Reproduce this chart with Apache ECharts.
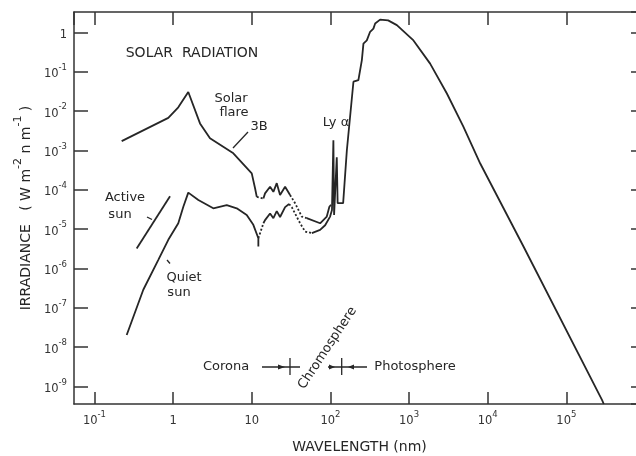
<!DOCTYPE html>
<html>
<head>
<meta charset="utf-8">
<script src="https://cdn.jsdelivr.net/npm/echarts@6/dist/echarts.min.js"></script>
<style>html,body{margin:0;padding:0;background:#fff;overflow:hidden;width:636px;height:456px}#c{width:680px;height:456px}</style>
</head>
<body>
<div id="c"></div>
<script>
// All points are [log10(wavelength / nm), log10(irradiance / W m^-2 nm^-1)]
const flareSolid1 = [[-0.654,-2.76],[-0.061,-2.17],[0.066,-1.90],[0.193,-1.51],[0.342,-2.31],[0.469,-2.69],[0.766,-3.07],[1.000,-3.58],[1.042,-3.96],[1.064,-4.18]];
const flareDot1   = [[1.064,-4.18],[1.148,-4.22]];
const flareSolid2 = [[1.148,-4.22],[1.169,-4.09],[1.233,-3.92],[1.275,-4.05],[1.318,-3.83],[1.360,-4.13],[1.424,-3.92],[1.487,-4.13]];
const flareDot2   = [[1.487,-4.13],[1.551,-4.34],[1.636,-4.68],[1.699,-4.72]];
const flareSolid3 = [[1.699,-4.72],[1.869,-4.85],[1.954,-4.68],[1.987,-4.43],[2.008,-4.38]];

const quietSolid1 = [[-0.590,-7.69],[-0.379,-6.54],[-0.188,-5.78],[-0.061,-5.27],[0.066,-4.85],[0.130,-4.43],[0.193,-4.07],[0.321,-4.26],[0.511,-4.47],[0.682,-4.39],[0.809,-4.47],[0.936,-4.64],[1.020,-4.89],[1.084,-5.23],[1.084,-5.44],[1.084,-5.23]];
const quietDot1   = [[1.084,-5.23],[1.148,-4.85]];
const quietSolid2 = [[1.148,-4.85],[1.169,-4.77],[1.233,-4.60],[1.275,-4.72],[1.318,-4.54],[1.360,-4.69],[1.424,-4.44],[1.475,-4.36]];
const quietDot2   = [[1.475,-4.36],[1.509,-4.44],[1.615,-4.85],[1.679,-5.06],[1.764,-5.10]];
const quietSolid3 = [[1.764,-5.10],[1.869,-5.02],[1.933,-4.90],[1.996,-4.68],[2.020,-4.51],[2.038,-2.74],[2.047,-4.64],[2.081,-3.17],[2.092,-4.34],[2.162,-4.34],[2.209,-3.00],[2.293,-1.25],[2.356,-1.21],[2.400,-0.70],[2.420,-0.28],[2.463,-0.20],[2.505,0.02],[2.547,0.10],[2.569,0.23],[2.632,0.33],[2.734,0.31],[2.845,0.19],[3.056,-0.20],[3.268,-0.79],[3.481,-1.55],[3.692,-2.40],[3.905,-3.33],[4.455,-5.44],[5.453,-9.34],[5.476,-9.446]];

const activeSun = [[-0.463,-5.49],[-0.039,-4.16]];

const xRangeLog = [-1.26, 6];      // wavelength axis extent (log10 nm)
const yRangeLog = [-9.446, 0.523]; // irradiance axis extent (log10)

function powLabel(v){
  const l = Math.log10(v), e = Math.round(l);
  if (Math.abs(l - e) > 0.01) return '';
  if (e === 0) return '{b|1}';
  if (e === 1) return '{b|10}';
  return '{b|10}{s|' + e + '}';
}
const toLin = arr => arr.map(p => [Math.pow(10, p[0]), Math.pow(10, p[1])]);

const INK = '#262626';
const FONT = 'DejaVu Sans';
function seg(data, dotted){
  return { type:'line', data: toLin(data), showSymbol:false, silent:true,
    lineStyle:{ color: INK, width: 1.8, type: dotted ? [2,2] : 'solid' } };
}
const tickRich = {
  b:{ fontFamily:FONT, fontSize:11.5, color:'#333', verticalAlign:'bottom', lineHeight:17 },
  s:{ fontFamily:FONT, fontSize:8.5, color:'#333', verticalAlign:'top', lineHeight:17 }
};

const axisLine = { show:true, lineStyle:{ color:'#333', width:1.5 } };
const chart = echarts.init(document.getElementById('c'), null, {renderer:'canvas'});
const xMin = Math.pow(10, xRangeLog[0]), xMax = Math.pow(10, xRangeLog[1]);
const yMin = Math.pow(10, yRangeLog[0]), yMax = Math.pow(10, yRangeLog[1]);

const txt = (s, x, y, size) => ({ type:'text', x, y, silent:true,
  style:{ text:s, fill:INK, font:(size||13)+'px "DejaVu Sans"', textAlign:'center', textVerticalAlign:'middle' } });
const ln = (x1,y1,x2,y2,w) => ({ type:'line', silent:true, shape:{x1,y1,x2,y2}, style:{ stroke:INK, lineWidth:w||1.3 } });
const tri = (pts) => ({ type:'polygon', silent:true, shape:{points:pts}, style:{ fill:INK } });

chart.setOption({
  animation:false,
  backgroundColor:'#fff',
  grid:{ left:74, top:12, width:571, height:392, containLabel:false, outerBoundsMode:'none' },
  xAxis:[
    { type:'log', logBase:10, position:'bottom', min:xMin, max:xMax,
      axisLine, splitLine:{show:false},
      axisTick:{ inside:true, length:12, lineStyle:{color:'#333', width:1.5} },
      minorTick:{show:false},
      axisLabel:{ formatter: powLabel, margin:6, rich: tickRich, showMinLabel:false },
      name:'WAVELENGTH (nm)', nameLocation:'middle', nameGap:36,
      nameTextStyle:{ color:INK, fontFamily:FONT, fontSize:14 } },
    { type:'log', logBase:10, position:'top', min:xMin, max:xMax,
      axisLine, splitLine:{show:false},
      axisTick:{ inside:true, length:13, lineStyle:{color:'#333', width:1.5} },
      axisLabel:{ show:false } }
  ],
  yAxis:[
    { type:'log', logBase:10, position:'left', min:yMin, max:yMax,
      axisLine, splitLine:{show:false},
      axisTick:{ inside:true, length:14, lineStyle:{color:'#333', width:1.5} },
      axisLabel:{ formatter: powLabel, margin:7, rich: tickRich, showMinLabel:false, showMaxLabel:false },
      name:'{t|IRRADIANCE   ( W m}{u|-2}{t| n m}{u|-1}{t| )}', nameLocation:'middle', nameGap:36, nameRotate:90,
      nameTextStyle:{ rich:{
        t:{ color:INK, fontFamily:FONT, fontSize:14, verticalAlign:'bottom', lineHeight:20 },
        u:{ color:INK, fontFamily:FONT, fontSize:11, verticalAlign:'top', lineHeight:20 } } } },
    { type:'log', logBase:10, position:'right', min:yMin, max:yMax,
      axisLine, splitLine:{show:false},
      axisTick:{ inside:true, length:14, lineStyle:{color:'#333', width:1.5} },
      axisLabel:{ show:false } }
  ],
  series:[
    seg(flareSolid1,false), seg(flareDot1,true), seg(flareSolid2,false), seg(flareDot2,true), seg(flareSolid3,false),
    seg(quietSolid1,false), seg(quietDot1,true), seg(quietSolid2,false), seg(quietDot2,true), seg(quietSolid3,false),
    seg(activeSun,false)
  ],
  graphic:[
    txt('SOLAR  RADIATION', 192, 53, 14),
    txt('Solar', 231, 99), txt('flare', 234, 113), txt('3B', 259, 127),
    ln(248,132,233,148),
    txt('Ly \u03B1', 336, 123),
    txt('Active', 125, 198), txt('sun', 120, 215),
    ln(147,217,152,219.5),
    txt('Quiet', 184, 278), txt('sun', 179, 293),
    ln(167,260,170,263.5),
    txt('Corona', 226, 367), txt('Photosphere', 415, 367),
    { type:'text', silent:true, x:327.5, y:348, rotation:0.988,
      style:{ text:'Chromosphere', fill:INK, font:'13px "DejaVu Sans"', textAlign:'center', textVerticalAlign:'middle' } },
    ln(262,367,300,367), ln(290,358,290,375), tri([[278,364.5],[285,367],[278,369.5]]),
    ln(328,367,367,367), ln(341.7,358,341.7,375), tri([[329,364.5],[335,367],[329,369.5]]), tri([[354,364.5],[348,367],[354,369.5]])
  ]
});
</script>
</body>
</html>
